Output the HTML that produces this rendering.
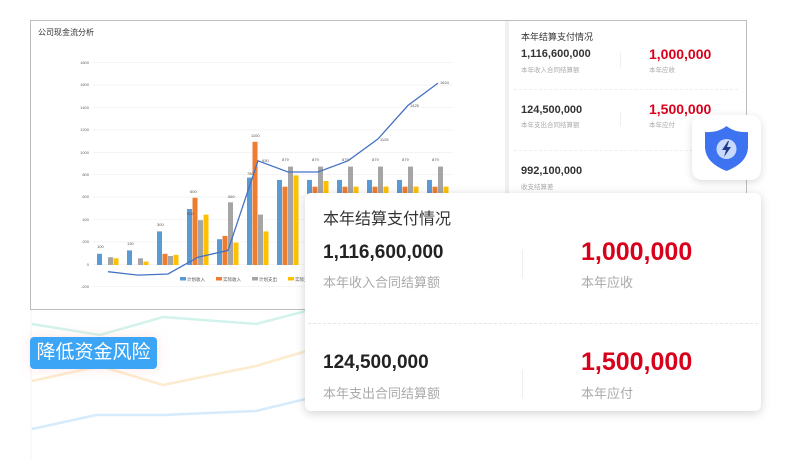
<!DOCTYPE html>
<html><head><meta charset="utf-8"><style>
*{margin:0;padding:0;box-sizing:border-box}
body{width:792px;height:459px;background:#fff;position:relative;overflow:hidden;font-family:"Liberation Sans","Noto Sans CJK SC",sans-serif}
.abs{position:absolute}
.panel{left:30px;top:20px;width:717px;height:290px;border:1px solid #bdbdbd;background:#fff}
.rp{left:505px;top:21px;width:241px;height:288px;border-left:4px solid #f0f0f0;background:#fff}
.card{left:305px;top:193px;width:456px;height:218px;background:#fff;border-radius:6px;box-shadow:0 2px 10px rgba(0,0,0,.18)}
.sh{left:692px;top:115px;width:69px;height:65px;background:#fff;border-radius:10px;box-shadow:0 2px 8px rgba(0,0,0,.15)}
.tag{left:30px;top:337px;width:127px;height:32px;background:#3ca5f6;border-radius:4px;color:#fff;font-size:19px;line-height:32px;text-align:center;box-shadow:0 0 12px rgba(255,150,150,.25)}
</style></head><body>
<svg class="abs" style="left:0;top:0" width="792" height="459">
<line x1="31" y1="310" x2="31" y2="459" stroke="#f3f3f3"/>
<polyline points="32,324 100,335 163,317 256,324 310,310" fill="none" stroke="#d2f3ec" stroke-width="2.5"/>
<polyline points="32,381 100,366 163,385 256,366 310,350" fill="none" stroke="#fdebcf" stroke-width="2.5"/>
<polyline points="32,429 96,415 163,415 256,411 310,398" fill="none" stroke="#d6ebfb" stroke-width="2.5"/>
</svg>
<div class="abs panel"></div>
<div class="abs" style="left:38px;top:27px;font-size:8px;color:#333">公司现金流分析</div>
<svg class="abs" style="left:0;top:0" width="505" height="310">
<g stroke="#eee" stroke-width="0.6">
<line x1="93" y1="62.7" x2="453" y2="62.7"/><line x1="93" y1="85.1" x2="453" y2="85.1"/><line x1="93" y1="107.5" x2="453" y2="107.5"/><line x1="93" y1="129.9" x2="453" y2="129.9"/><line x1="93" y1="152.3" x2="453" y2="152.3"/><line x1="93" y1="174.7" x2="453" y2="174.7"/><line x1="93" y1="197.1" x2="453" y2="197.1"/><line x1="93" y1="219.5" x2="453" y2="219.5"/><line x1="93" y1="241.9" x2="453" y2="241.9"/><line x1="93" y1="264.3" x2="453" y2="264.3"/><line x1="93" y1="286.7" x2="453" y2="286.7"/>
</g>
<g font-size="4" fill="#666" text-anchor="end">
<text x="89" y="64">1800</text><text x="89" y="86">1600</text><text x="89" y="109">1400</text><text x="89" y="131">1200</text><text x="89" y="154">1000</text><text x="89" y="176">800</text><text x="89" y="198">600</text><text x="89" y="221">400</text><text x="89" y="243">200</text><text x="89" y="266">0</text><text x="89" y="288">-200</text>
</g>
<defs><g id="g7"><rect x="-11" y="-85.1" width="5" height="85.1" fill="#5b9bd5"/><rect x="-5.5" y="-78.3" width="5" height="78.3" fill="#ed7d31"/><rect x="0" y="-98.4" width="5" height="98.4" fill="#a5a5a5"/></g></defs>
<g transform="translate(108,265)"><rect x="-11" y="-11.2" width="5" height="11.2" fill="#5b9bd5"/><rect x="0" y="-7.8" width="5" height="7.8" fill="#a5a5a5"/><rect x="5.5" y="-6.7" width="5" height="6.7" fill="#ffc000"/></g>
<g transform="translate(138,265)"><rect x="-11" y="-14.6" width="5" height="14.6" fill="#5b9bd5"/><rect x="0" y="-6.7" width="5" height="6.7" fill="#a5a5a5"/><rect x="5.5" y="-3.4" width="5" height="3.4" fill="#ffc000"/></g>
<g transform="translate(168,265)"><rect x="-11" y="-33.6" width="5" height="33.6" fill="#5b9bd5"/><rect x="-5.5" y="-11.2" width="5" height="11.2" fill="#ed7d31"/><rect x="0" y="-9" width="5" height="9" fill="#a5a5a5"/><rect x="5.5" y="-10.1" width="5" height="10.1" fill="#ffc000"/></g>
<g transform="translate(198,265)"><rect x="-11" y="-56" width="5" height="56" fill="#5b9bd5"/><rect x="-5.5" y="-67.2" width="5" height="67.2" fill="#ed7d31"/><rect x="0" y="-44.8" width="5" height="44.8" fill="#a5a5a5"/><rect x="5.5" y="-50.4" width="5" height="50.4" fill="#ffc000"/></g>
<g transform="translate(228,265)"><rect x="-11" y="-25.8" width="5" height="25.8" fill="#5b9bd5"/><rect x="-5.5" y="-29.1" width="5" height="29.1" fill="#ed7d31"/><rect x="0" y="-62.7" width="5" height="62.7" fill="#a5a5a5"/><rect x="5.5" y="-22.4" width="5" height="22.4" fill="#ffc000"/></g>
<g transform="translate(258,265)"><rect x="-11" y="-87.4" width="5" height="87.4" fill="#5b9bd5"/><rect x="-5.5" y="-123.2" width="5" height="123.2" fill="#ed7d31"/><rect x="0" y="-50.4" width="5" height="50.4" fill="#a5a5a5"/><rect x="5.5" y="-33.6" width="5" height="33.6" fill="#ffc000"/></g>
<g transform="translate(288,265)"><use href="#g7"/><rect x="5.5" y="-89.6" width="5" height="89.6" fill="#ffc000"/></g>
<g transform="translate(318,265)"><use href="#g7"/><rect x="5.5" y="-84" width="5" height="84" fill="#ffc000"/></g>
<g transform="translate(348,265)"><use href="#g7"/><rect x="5.5" y="-78.4" width="5" height="78.4" fill="#ffc000"/></g>
<g transform="translate(378,265)"><use href="#g7"/><rect x="5.5" y="-78.4" width="5" height="78.4" fill="#ffc000"/></g>
<g transform="translate(408,265)"><use href="#g7"/><rect x="5.5" y="-78.4" width="5" height="78.4" fill="#ffc000"/></g>
<g transform="translate(438,265)"><use href="#g7"/><rect x="5.5" y="-78.4" width="5" height="78.4" fill="#ffc000"/></g>
<polyline points="108,271.7 138,275.1 168,274 198,257.2 228,250.4 258,160.8 288,172 318,172 348,160.8 378,138.9 408,105.4 438,83.1" fill="none" stroke="#4472c4" stroke-width="1.3"/>
<g font-size="4" fill="#555">
<text x="251" y="137">1100</text><text x="190" y="193">600</text><text x="228" y="198">560</text><text x="440" y="84">1624</text><text x="410" y="107">1425</text><text x="380" y="141">1126</text><text x="262" y="162">930</text>
<text x="282" y="161">879</text><text x="312" y="161">879</text><text x="342" y="161">879</text><text x="372" y="161">879</text><text x="402" y="161">879</text><text x="432" y="161">879</text>
<text x="97" y="248">100</text><text x="127" y="245">130</text><text x="157" y="226">300</text><text x="187" y="215">500</text><text x="247" y="175">780</text>
</g>
<g font-size="4.5" fill="#555">
<rect x="180" y="277" width="6" height="3.5" fill="#5b9bd5"/><text x="187" y="281">计划收入</text>
<rect x="216" y="277" width="6" height="3.5" fill="#ed7d31"/><text x="223" y="281">实际收入</text>
<rect x="252" y="277" width="6" height="3.5" fill="#a5a5a5"/><text x="259" y="281">计划支出</text>
<rect x="288" y="277" width="6" height="3.5" fill="#ffc000"/><text x="295" y="281">实际支出</text>
</g>
</svg>
<div class="abs rp"></div>
<div class="abs" style="left:521px;top:30px;font-size:9px;color:#333">本年结算支付情况</div>
<div class="abs" style="left:521px;top:48px;font-size:11px;font-weight:bold;color:#333">1,116,600,000</div>
<div class="abs" style="left:521px;top:64px;font-size:6.5px;color:#aaa">本年收入合同结算额</div>
<div class="abs" style="left:649px;top:46px;font-size:14px;font-weight:bold;color:#d9001b">1,000,000</div>
<div class="abs" style="left:649px;top:64px;font-size:6.5px;color:#aaa">本年应收</div>
<div class="abs" style="left:620px;top:53px;width:1px;height:14px;background:#eee"></div>
<div class="abs" style="left:514px;top:89px;width:224px;border-top:1px dashed #eee"></div>
<div class="abs" style="left:521px;top:104px;font-size:11px;font-weight:bold;color:#333">124,500,000</div>
<div class="abs" style="left:521px;top:119px;font-size:6.5px;color:#aaa">本年支出合同结算额</div>
<div class="abs" style="left:649px;top:101px;font-size:14px;font-weight:bold;color:#d9001b">1,500,000</div>
<div class="abs" style="left:649px;top:119px;font-size:6.5px;color:#aaa">本年应付</div>
<div class="abs" style="left:620px;top:112px;width:1px;height:14px;background:#eee"></div>
<div class="abs" style="left:514px;top:150px;width:224px;border-top:1px dashed #eee"></div>
<div class="abs" style="left:521px;top:165px;font-size:11px;font-weight:bold;color:#333">992,100,000</div>
<div class="abs" style="left:521px;top:181px;font-size:6.5px;color:#aaa">收支结算差</div>
<div class="abs sh"><svg width="69" height="65"><path d="M34.5 11 Q43 18 56 17 L56 33 Q55 48 34.5 56 Q14 48 13 33 L13 17 Q26 18 34.5 11Z" fill="#3d72f0"/><circle cx="34.5" cy="34" r="10" fill="#c9d9fb"/><path d="M36 26 L30 35 L34 35 L32 42 L39 32 L35 32 L37 26Z" fill="#1f3a8a"/></svg></div>
<div class="abs card"></div>
<div class="abs" style="left:323px;top:205px;font-size:16px;color:#333">本年结算支付情况</div>
<div class="abs" style="left:323px;top:242px;font-size:19px;font-weight:bold;color:#222">1,116,600,000</div>
<div class="abs" style="left:323px;top:272px;font-size:13px;color:#aaa">本年收入合同结算额</div>
<div class="abs" style="left:581px;top:238px;font-size:25px;font-weight:bold;color:#d9001b">1,000,000</div>
<div class="abs" style="left:581px;top:272px;font-size:13px;color:#aaa">本年应收</div>
<div class="abs" style="left:522px;top:250px;width:1px;height:28px;background:#eee"></div>
<div class="abs" style="left:308px;top:323px;width:450px;border-top:1px dashed #e5e5e5"></div>
<div class="abs" style="left:323px;top:352px;font-size:19px;font-weight:bold;color:#222">124,500,000</div>
<div class="abs" style="left:323px;top:383px;font-size:13px;color:#aaa">本年支出合同结算额</div>
<div class="abs" style="left:581px;top:348px;font-size:25px;font-weight:bold;color:#d9001b">1,500,000</div>
<div class="abs" style="left:581px;top:383px;font-size:13px;color:#aaa">本年应付</div>
<div class="abs" style="left:522px;top:370px;width:1px;height:28px;background:#eee"></div>
<div class="abs tag">降低资金风险</div>
</body></html>
